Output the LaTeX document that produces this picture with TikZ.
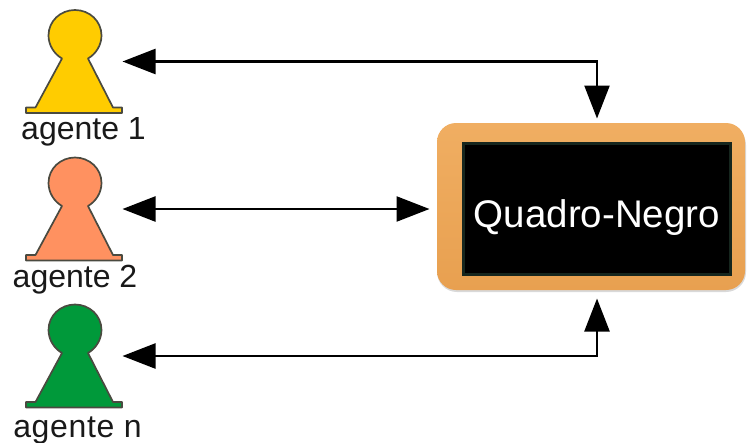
\documentclass[tikz,border=0pt]{standalone}
\usepackage{fontspec}
\setmainfont{Liberation Sans}
\usetikzlibrary{arrows.meta}
\definecolor{pawnedge}{HTML}{4A4A40}
\definecolor{woodA}{HTML}{F0AE62}
\definecolor{woodB}{HTML}{E8A050}
\definecolor{slate}{HTML}{16261E}
\definecolor{pawnyellow}{HTML}{FFCC00}
\definecolor{pawnsalmon}{HTML}{FF9160}
\definecolor{pawngreen}{HTML}{00993A}
\tikzset{
  x=1pt,y=-1pt,
  pawnshape/.style={draw=pawnedge,line width=1.7pt,line join=round,fill=#1},
  agentlabel/.style={inner sep=0pt,font=\fontsize{32}{32}\selectfont,anchor=base,text=black!90},
  link/.style={line width=2.4pt,{Triangle[length=33pt,width=25pt]}-{Triangle[length=33pt,width=25pt]}},
  spot/.style={inner sep=0pt,outer sep=0pt,minimum size=0pt},
  pics/pawn/.style={code={
    \draw[pawnshape=#1] (26,107.5) -- (35.5,107.5) -- (62,58.5)
      .. controls (54,53.9) and (48.5,45) .. (48.5,35.5)
      .. controls (48.5,21) and (60.5,10) .. (75,10)
      .. controls (89.5,10) and (101.5,21) .. (101.5,35.5)
      .. controls (101.5,45) and (96,53.9) .. (88,58.5)
      -- (113,107.5) -- (122,107.5) -- (122,113) -- (26,113) -- cycle;
  }}
}
\begin{document}
\begin{tikzpicture}
\useasboundingbox (0,0) rectangle (751,442);
% pawns
\pic at (0,0) {pawn=pawnyellow};
\pic at (0,147.5) {pawn=pawnsalmon};
\pic at (0,294.5) {pawn=pawngreen};
% board
\fill[gray!30,rounded corners=20pt] (437,125) rectangle (746,292);
\shade[top color=woodA,bottom color=woodB,rounded corners=19pt] (437,123) rectangle (745,290);
\node[draw=slate,line width=2.5pt,fill=black,minimum width=267pt,minimum height=131pt,inner sep=0pt,anchor=north west] (board) at (462,142) {};
\node[text=white,inner sep=0pt,anchor=base,font=\fontsize{38.5}{38.5}\selectfont] (title) at (597,227.5) {Quadro-Negro};
% labels
\node[agentlabel] (l1) at (83.5,139) {agente 1};
\node[agentlabel] (l2) at (75,287) {agente 2};
\node[agentlabel] (l3) at (77.5,437) {\addfontfeature{LetterSpace=2}agente n};
% anchors
\node[spot] (a1) at (122.5,61.5) {};
\node[spot] (a2) at (122.5,209) {};
\node[spot] (a3) at (122.5,356) {};
\node[spot] (b1) at (597,118.5) {};
\node[spot] (b2) at (429.5,209) {};
\node[spot] (b3) at (597,298.5) {};
\draw[link] (a1) -| (b1);
\draw[link] (a2) -- (b2);
\draw[link] (a3) -| (b3);
\end{tikzpicture}
\end{document}
